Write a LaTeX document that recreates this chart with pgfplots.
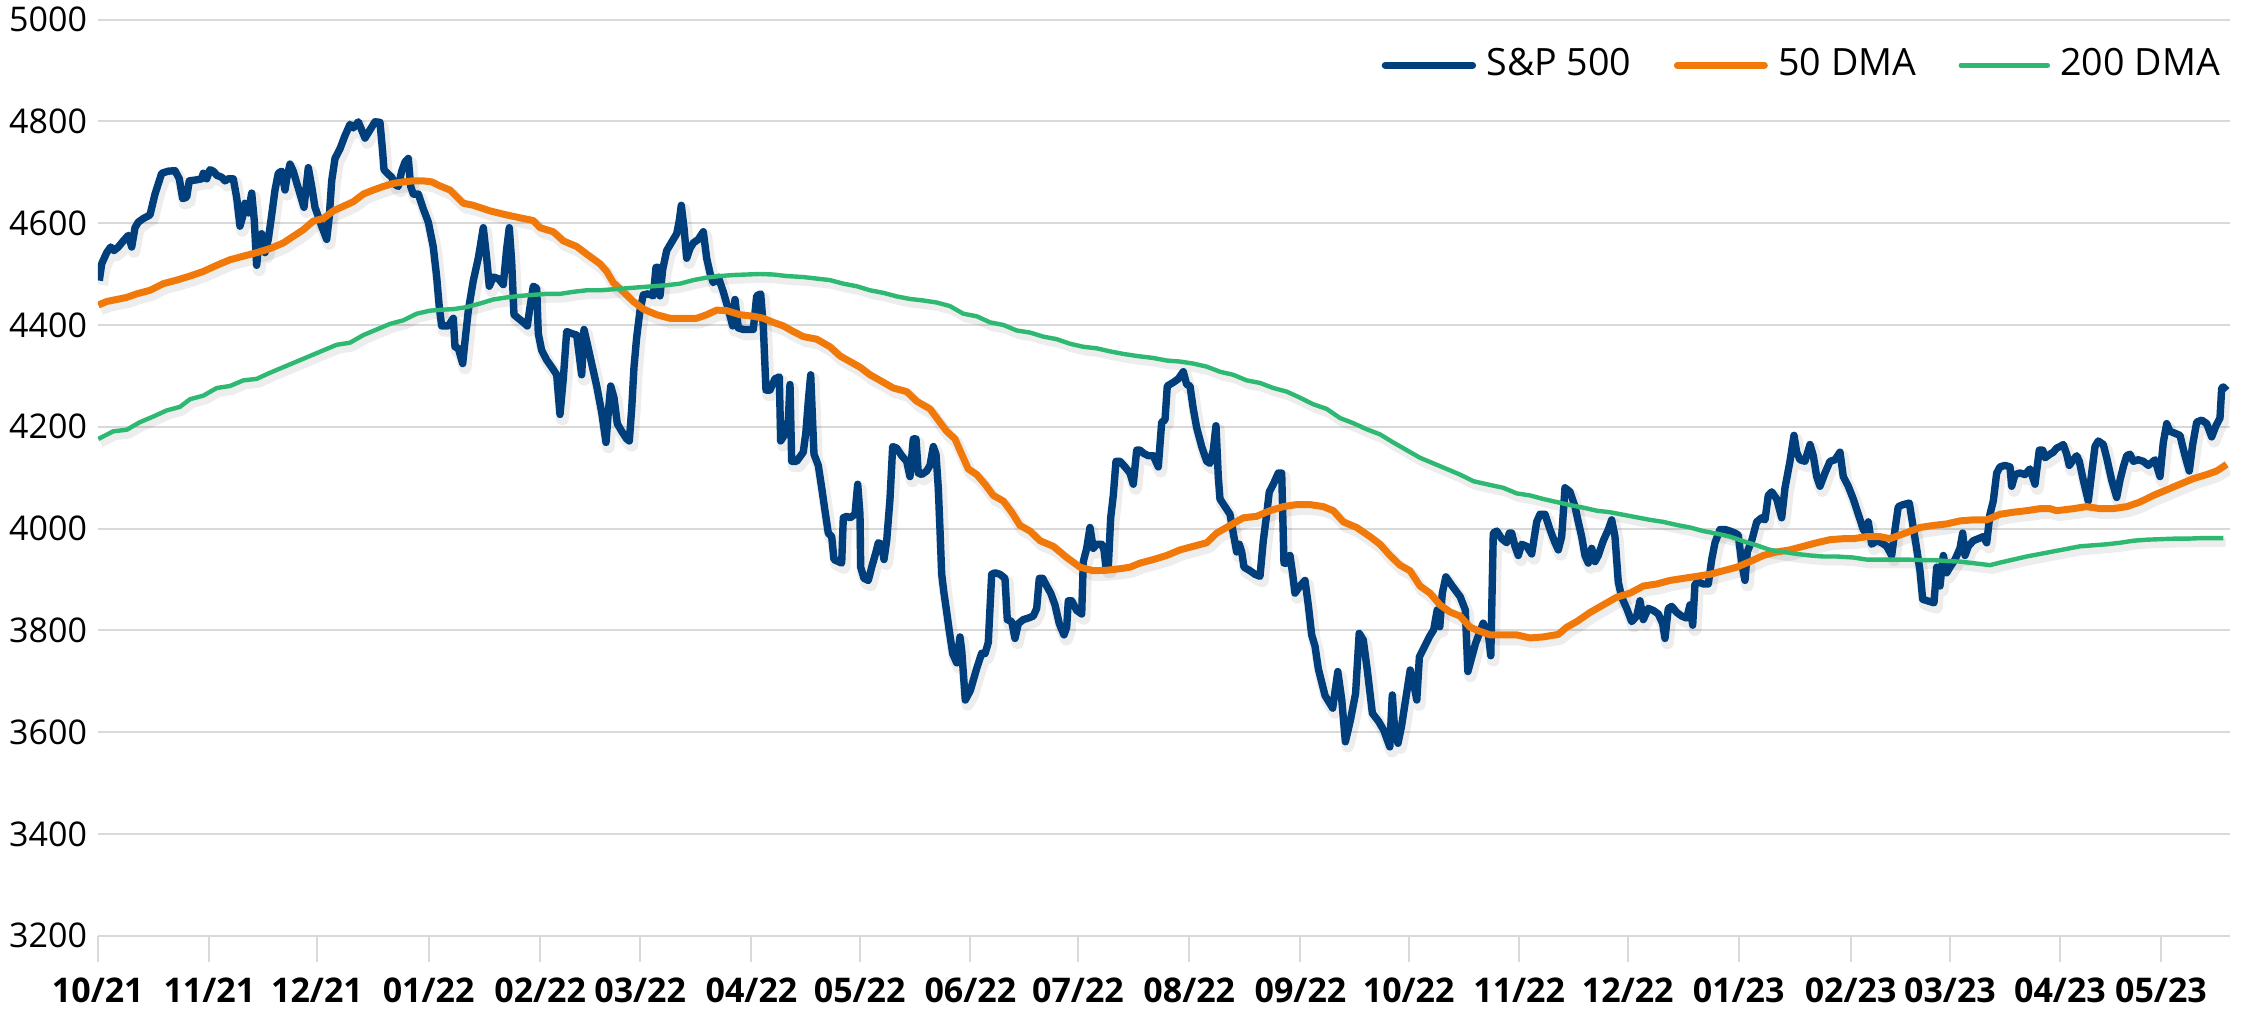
\documentclass[border=0pt]{standalone}
\usepackage{fontspec}
\setmainfont{Open Sans}
\usepackage{pgfplots}
\usepackage{pgfplotstable}
\pgfplotsset{compat=1.18}
\definecolor{spnavy}{RGB}{0,62,124}
\definecolor{dmaorange}{RGB}{240,121,10}
\definecolor{dmagreen}{RGB}{46,185,115}
\definecolor{gridgray}{RGB}{217,217,217}

\pgfplotstableread{
x y
99.3 4487
101.7 4520
106.7 4542
110.7 4553
114 4546
118.3 4553
123.3 4565
128.3 4576
131.7 4553
135 4591
138.3 4602
143.3 4609
150 4616
155 4657
161.7 4698
168.3 4702
175 4703
179.3 4687
182.7 4648
186.7 4651
189.3 4683
196.7 4685
201.7 4687
203.3 4698
206.7 4687
210 4705
213.3 4702
216.7 4694
221.7 4690
225 4683
228.3 4687
233.3 4687
236.7 4650
240 4594
242.7 4613
245 4639
248.3 4620
251.7 4659
254.3 4605
256.7 4517
259 4568
261.7 4579
265 4542
268.3 4568
271.7 4616
275 4665
278.3 4698
281.7 4702
285 4665
286.7 4687
290 4716
293.3 4702
296.7 4679
300.7 4653
304 4631
308.3 4709
311.7 4672
315 4631
318.3 4613
321.7 4594
326.7 4568
329.3 4613
331.7 4683
335 4727
340 4746
345 4772
350 4794
353.3 4787
358.3 4799
361.7 4783
365 4767
370 4783
375 4799
380 4798
382.7 4739
384 4705
387.3 4698
391.7 4690
395 4676
398.3 4672
401.7 4702
405 4720
408.3 4727
410.7 4672
413.3 4657
418.3 4657
423.3 4628
428.3 4602
433.3 4553
436.7 4494
439.3 4435
441.7 4398
448.3 4398
453.3 4413
455 4357
458.3 4354
462.7 4324
465 4368
468.3 4428
473.3 4487
478.3 4531
483.3 4591
486.7 4531
489.3 4476
493.3 4494
498.3 4491
503.3 4479
506.7 4550
509.3 4591
511.7 4524
514 4420
518.3 4413
523.3 4405
527.3 4398
530 4435
533.3 4476
536.7 4472
538.3 4383
541.7 4350
546.7 4331
551.7 4317
556.7 4302
560 4224
563.3 4294
566.7 4387
571.7 4383
576.7 4380
581.7 4302
584 4391
586.7 4368
591.7 4324
596.7 4280
601.7 4228
606 4169
608.3 4228
610.7 4280
614 4257
617.3 4206
621.7 4191
626.7 4176
629.3 4172
631.7 4235
634 4317
636.7 4376
640 4428
643.3 4459
648.3 4461
653.3 4457
656 4513
658.3 4513
660 4457
662.7 4509
666.7 4546
673.3 4568
676.7 4579
679.3 4605
681.3 4635
684 4591
686.7 4531
690 4550
693.3 4561
698.3 4568
703.3 4583
706.7 4531
710 4502
713.3 4483
718.3 4494
723.3 4465
728.3 4431
732.7 4398
735 4450
738.3 4394
743.3 4391
748.3 4391
753.3 4391
756.7 4457
760.7 4461
763.3 4398
766 4272
770 4272
775 4294
779.3 4298
780.7 4172
783.3 4180
788.3 4213
790 4283
791.7 4132
796.7 4132
803.3 4150
806 4191
808.3 4250
810.7 4302
812.7 4206
814 4146
818.3 4124
821.7 4080
825 4035
828.3 3991
831.7 3984
834 3939
838.3 3935
841.7 3932
843.3 4021
846.7 4024
850 4021
855 4028
857.7 4087
860 4028
860.7 3924
864 3902
868.3 3898
871.7 3924
876 3954
878.3 3972
881.7 3969
884 3939
886.7 3976
890 4058
892.7 4161
896.7 4158
901.7 4143
906.7 4132
910 4102
913.3 4176
916 4176
918.3 4109
921.7 4106
926.7 4113
930 4124
933.3 4161
936 4146
938.3 4080
940 3998
941.7 3910
944 3873
946.7 3836
949.3 3799
952.7 3754
956.7 3736
960 3787
961.7 3761
965.3 3663
970.4 3682
976.7 3725
981.7 3755
985 3754
988.3 3776
991.7 3910
995 3913
1000 3910
1005 3902
1007.3 3821
1011.7 3817
1015 3784
1018.3 3813
1023.3 3821
1028.3 3824
1033.3 3828
1036.7 3843
1039.3 3902
1042.7 3902
1046.7 3887
1050.7 3873
1055 3850
1059.3 3813
1064 3791
1066.7 3806
1068.3 3858
1071.7 3858
1076.7 3839
1081.7 3832
1083.3 3935
1086.7 3961
1090 4002
1093.3 3961
1096.7 3969
1101.7 3969
1104 3958
1106 3924
1108.3 3924
1110.7 4021
1113.3 4065
1116 4132
1120 4132
1125 4121
1130 4109
1133.3 4087
1136.7 4154
1140 4154
1143.3 4148
1148.3 4143
1153.3 4143
1158.3 4121
1161.7 4209
1165 4213
1167.3 4280
1173.3 4287
1178.3 4294
1183.3 4308
1186.7 4283
1190 4280
1193.3 4235
1196.7 4198
1201.7 4161
1206.7 4132
1210 4128
1213.3 4154
1216 4202
1218.3 4102
1220 4058
1225 4043
1230 4028
1233.3 3991
1236.7 3954
1239.3 3969
1241.7 3954
1244 3924
1250 3917
1255 3910
1260 3906
1263.3 3976
1266.7 4028
1269.3 4072
1273.3 4087
1278.3 4109
1281.7 4109
1284 3932
1286.7 3932
1290 3947
1292.7 3910
1295 3873
1300 3887
1305 3898
1308.3 3850
1311.7 3791
1315 3769
1318.3 3725
1325 3672
1332.7 3647
1337.8 3719
1341.8 3663
1345.4 3581
1350.5 3624
1355.6 3676
1359.2 3794
1363.3 3781
1367.3 3722
1372.4 3637
1378.6 3621
1383.7 3604
1389.8 3571
1392.3 3673
1394.9 3598
1398 3578
1401.5 3611
1406.6 3676
1410.2 3722
1414.3 3689
1416.8 3663
1419.4 3748
1424.5 3768
1429.6 3788
1433.7 3801
1437.2 3840
1439.8 3807
1442.3 3873
1445.9 3905
1452.6 3886
1460.2 3866
1465.3 3840
1467.9 3719
1475.5 3774
1483.2 3814
1488.3 3794
1490.8 3750
1493.3 3991
1496.7 3995
1501.7 3980
1506.7 3972
1509.3 3991
1511.7 3991
1515 3965
1518.3 3947
1521.7 3969
1526.7 3965
1531.7 3950
1536.7 4013
1540 4028
1545 4028
1550 3998
1555 3972
1558.3 3958
1561.7 3984
1565 4080
1570 4072
1575 4043
1578.3 4013
1581.7 3984
1585 3947
1588.3 3932
1591.7 3961
1595 3935
1598.3 3947
1603.3 3976
1608.3 3998
1611.7 4017
1615 3984
1618.3 3895
1621.7 3865
1626.7 3843
1631.7 3817
1636.7 3828
1640 3858
1643.3 3821
1648.3 3843
1653.3 3839
1658.3 3832
1662.7 3813
1665 3784
1668.3 3843
1671.7 3847
1676.7 3835
1681.7 3828
1686.7 3824
1690 3850
1692.7 3810
1695 3891
1698.3 3895
1703.3 3891
1708.3 3891
1711.7 3939
1715 3972
1720 3998
1725 3998
1730 3995
1735 3991
1738.3 3987
1741.7 3932
1745 3898
1747.3 3954
1751.7 3976
1756.7 4013
1761.7 4021
1765 4017
1768.3 4065
1771.7 4072
1776.7 4058
1781.7 4021
1785 4080
1790 4132
1794 4183
1796.7 4150
1800 4135
1805 4132
1810 4165
1813.3 4143
1816.7 4102
1820 4083
1825 4109
1830 4132
1835 4135
1840 4150
1843.3 4102
1848.3 4083
1853.3 4058
1858.3 4028
1863.3 3998
1866 3991
1868.3 4013
1871.7 3969
1876.7 3976
1881.7 3972
1886.7 3965
1891.7 3947
1895 3998
1898.3 4043
1903.3 4047
1909.3 4050
1911.7 4021
1916 3969
1920 3917
1922.7 3861
1927.3 3858
1934 3854
1936.7 3924
1940 3887
1943.3 3947
1946.7 3913
1950 3924
1955 3939
1960 3961
1962.7 3991
1965 3947
1968.3 3965
1973.3 3976
1978.3 3980
1983.3 3984
1986.7 3972
1990 4028
1993.3 4054
1996.7 4109
2000 4121
2005 4124
2010 4121
2011.7 4083
2015 4106
2020 4109
2025 4106
2030 4117
2035 4087
2039.3 4154
2042.7 4154
2045 4139
2050 4146
2053.3 4150
2056.7 4158
2060 4161
2063.3 4165
2066.7 4146
2069.3 4124
2073.3 4135
2076.7 4143
2079.3 4132
2083.3 4095
2088.3 4054
2091.7 4109
2095 4161
2098.3 4172
2103.3 4165
2106.7 4139
2111.7 4095
2116.7 4061
2120 4095
2123.3 4121
2126.7 4143
2130 4146
2133.3 4132
2138.3 4135
2143.3 4132
2148.3 4124
2155 4135
2160 4102
2163.3 4169
2166.7 4206
2170 4191
2175 4187
2180 4183
2185 4143
2189.3 4113
2192.7 4165
2196.7 4209
2201.7 4213
2206.7 4206
2211.7 4180
2216 4202
2220 4217
2221.7 4276
2223.3 4278
2226.7 4271
}\spx

\pgfplotstableread{
x y
98.3 4439
106.7 4446
116.7 4450
126.7 4454
136.7 4461
150 4468
163.3 4481
176.7 4488
190 4496
203.3 4505
216.7 4517
230 4528
243.3 4535
256.7 4542
270 4550
283.3 4561
293.3 4574
303.3 4587
313.3 4604
323.3 4609
333.3 4624
343.3 4633
353.3 4642
363.3 4657
373.3 4665
383.3 4672
393.3 4678
403.3 4681
413.3 4683
423.3 4683
431.7 4681
440 4673
450 4665
463.3 4639
473.3 4635
490 4624
506.7 4616
523.3 4609
533.3 4605
540 4591
553.3 4583
563.3 4565
576.7 4554
586.7 4539
600 4520
606.7 4505
613.3 4483
623.3 4465
633.3 4446
643.3 4431
656.7 4420
670 4413
683.3 4413
696.7 4413
706.7 4420
716.7 4429
726.7 4428
740 4420
753.3 4417
763.3 4413
773.3 4405
783.3 4398
793.3 4387
803.3 4377
816.7 4372
830 4357
840 4339
850 4328
860 4317
870 4302
880 4291
893.3 4276
906.7 4269
916.7 4250
930 4235
938.3 4213
946.7 4191
955 4176
961.7 4146
968.3 4117
976.7 4106
985 4087
993.3 4065
1003.3 4054
1011.7 4032
1020 4006
1030 3995
1040 3976
1053.3 3965
1066.7 3943
1080 3924
1093.3 3917
1106.7 3918
1120 3921
1130 3924
1140 3932
1153.3 3939
1166.7 3947
1180 3958
1193.3 3965
1206.7 3972
1216.7 3991
1230 4006
1243.3 4021
1256.7 4024
1270 4035
1283.3 4043
1296.7 4047
1310 4047
1323.3 4043
1333.3 4035
1343.3 4013
1356.7 4002
1370 3984
1380 3969
1390 3947
1400 3928
1410 3917
1420 3887
1430 3873
1440 3850
1450 3836
1460 3828
1470 3806
1480 3798
1490 3791
1503.3 3791
1516.7 3791
1530 3785
1543.3 3787
1558.3 3792
1566.7 3806
1576.7 3817
1590 3835
1603.3 3850
1616.7 3865
1630 3873
1643.3 3887
1656.7 3891
1670 3898
1683.3 3902
1696.7 3906
1710 3910
1723.3 3917
1736.7 3924
1750 3935
1763.3 3947
1776.7 3954
1790 3958
1803.3 3965
1816.7 3972
1830 3978
1843.3 3980
1853.3 3980
1866.7 3984
1880 3984
1890 3980
1906.7 3992
1920 4002
1933.3 4006
1946.7 4009
1960 4015
1973.3 4017
1986.7 4017
2000 4028
2013.3 4032
2026.7 4035
2040 4039
2050 4039
2056.7 4035
2073.3 4039
2086.7 4043
2100 4039
2113.3 4039
2126.7 4043
2140 4052
2153.3 4065
2166.7 4076
2180 4087
2193.3 4098
2206.7 4106
2216.7 4113
2226.7 4126
}\dmafifty

\pgfplotstableread{
x y
98.3 4176
113.3 4191
126.7 4194
140 4209
153.3 4220
166.7 4232
180 4239
190 4254
203.3 4261
216.7 4276
230 4280
243.3 4291
256.7 4294
270 4306
283.3 4317
296.7 4328
310 4339
323.3 4350
336.7 4361
350 4365
363.3 4380
376.7 4391
390 4402
403.3 4409
416.7 4422
430 4428
443.3 4430
453.3 4431
466.7 4435
480 4442
493.3 4450
506.7 4454
520 4457
533.3 4459
546.7 4461
560 4461
573.3 4465
586.7 4468
600 4468
613.3 4470
626.7 4472
640 4474
653.3 4476
666.7 4478
680 4481
693.3 4488
706.7 4493
720 4496
733.3 4498
746.7 4499
760 4500
773.3 4499
786.7 4496
803.3 4494
816.7 4491
830 4488
843.3 4481
856.7 4476
870 4468
883.3 4463
896.7 4456
910 4451
923.3 4448
936.7 4444
950 4437
963.3 4422
976.7 4417
990 4405
1003.3 4400
1016.7 4389
1030 4385
1043.3 4377
1056.7 4372
1070 4363
1083.3 4357
1096.7 4354
1110 4348
1123.3 4343
1136.7 4339
1153.3 4335
1166.7 4330
1180 4328
1193.3 4324
1206.7 4318
1220 4308
1233.3 4302
1246.7 4291
1260 4286
1273.3 4276
1286.7 4269
1300 4257
1313.3 4244
1326.7 4235
1340 4217
1353.3 4207
1366.7 4195
1380 4185
1393.3 4169
1406.7 4154
1420 4139
1433.3 4128
1446.7 4117
1460 4106
1473.3 4093
1486.7 4087
1503.3 4080
1516.7 4069
1530 4065
1543.3 4058
1556.7 4052
1570 4046
1583.3 4041
1596.7 4035
1610 4032
1623.3 4027
1636.7 4022
1650 4017
1663.3 4013
1676.7 4007
1690 4002
1703.3 3995
1716.7 3990
1730 3984
1743.3 3975
1756.7 3967
1770 3958
1783.3 3954
1796.7 3950
1810 3947
1823.3 3945
1836.7 3945
1853.3 3943
1866.7 3939
1880 3939
1893.3 3939
1906.7 3939
1920 3938
1933.3 3938
1946.7 3936
1960 3935
1973.3 3932
1990 3928
2000 3933
2013.3 3939
2026.7 3945
2040 3950
2053.3 3955
2066.7 3960
2080 3965
2093.3 3967
2106.7 3969
2120 3972
2133.3 3976
2146.7 3978
2160 3979
2173.3 3980
2186.7 3980
2200 3981
2223.3 3981
}\dmatwohundred

\begin{document}
\begin{tikzpicture}
\path[use as bounding box] (-24.45pt,-18.325pt) rectangle (538.8pt,233.925pt);
\begin{axis}[
  scale only axis,
  width=533.175pt, height=229.05pt,
  at={(0pt,0pt)}, anchor=south west,
  xmin=97.8, xmax=2230.5, ymin=3200, ymax=5000,
  ytick={3200,3400,3600,3800,4000,4200,4400,4600,4800,5000},
  xtick={97.8,209.4,317,428.6,540.2,640.2,751.5,859.7,970.4,1078,1189.3,1300.5,1408.7,1519.2,1627.8,1738.7,1850.6,1950,2060,2161},
  xticklabels={10/21,11/21,12/21,01/22,02/22,03/22,04/22,05/22,06/22,07/22,08/22,09/22,10/22,11/22,12/22,01/23,02/23,03/23,04/23,05/23},
  ymajorgrids,
  grid style={gridgray, line width=0.5pt},
  axis line style={draw=none},
  xtick pos=bottom,
  xtick align=outside,
  major tick length=6.5pt,
  xtick style={gridgray, line width=0.5pt},
  ytick style={draw=none},
  yticklabel style={font=\fontsize{8.5}{10}\selectfont, inner sep=0pt, xshift=-2.5pt},
  xticklabel style={font=\fontsize{8.5}{10}\selectfont\bfseries, inner sep=0pt, yshift=-3.8pt},
  /pgf/number format/assume math mode=true,
  /pgf/number format/1000 sep={},
  legend columns=3,
  legend cell align=left,
  legend style={at={(0.995,0.950)}, anchor=east, draw=none, fill=none,
    inner sep=0pt, outer sep=0pt,
    font=\fontsize{9.4}{11}\selectfont,
    nodes={inner sep=0pt},
    /tikz/every odd column/.append style={column sep=2.6pt},
    /tikz/every even column/.append style={column sep=10.6pt}},
  legend image code/.code={\draw[#1, line cap=round] (0pt,0pt) -- (21.75pt,0pt);},
]
% soft shadows
\addplot[forget plot, black, opacity=0.07, line width=3.2pt, line join=round, transform canvas={xshift=0.6pt,yshift=-1.1pt}] table {\spx};
\addplot[forget plot, black, opacity=0.07, line width=3pt, line join=round, transform canvas={xshift=0.6pt,yshift=-1.1pt}] table {\dmafifty};
\addplot[forget plot, black, opacity=0.07, line width=2.2pt, line join=round, transform canvas={xshift=0.6pt,yshift=-1.1pt}] table {\dmatwohundred};
% series
\addplot[spnavy, line width=1.85pt, line join=round] table {\spx};
\addlegendentry{S\&P 500}
\addplot[dmaorange, line width=1.75pt, line join=round] table {\dmafifty};
\addlegendentry{50 DMA}
\addplot[dmagreen, line width=1.1pt, line join=round] table {\dmatwohundred};
\addlegendentry{200 DMA}
\end{axis}
\end{tikzpicture}
\end{document}
